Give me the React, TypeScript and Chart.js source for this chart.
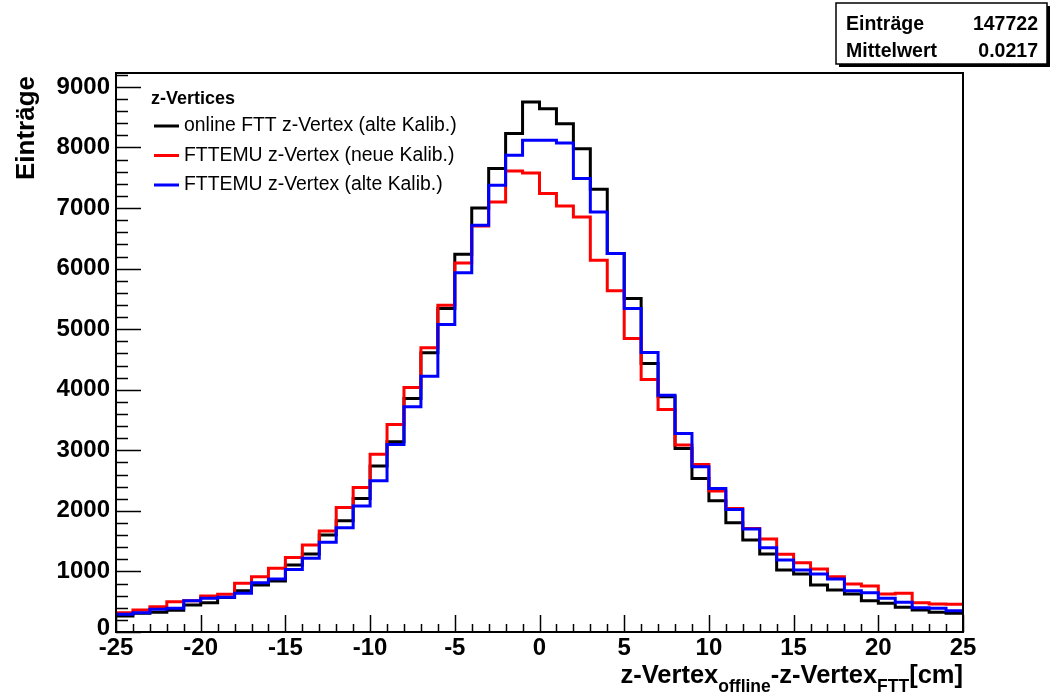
import React, { useEffect, useRef } from "react";
import { Chart, registerables } from "chart.js";

Chart.register(...registerables);

// Lower bin edges (bin width 1 cm)
const binEdges = [
  -25, -24, -23, -22, -21, -20, -19, -18, -17, -16,
  -15, -14, -13, -12, -11, -10, -9, -8, -7, -6,
  -5, -4, -3, -2, -1, 0, 1, 2, 3, 4,
  5, 6, 7, 8, 9, 10, 11, 12, 13, 14,
  15, 16, 17, 18, 19, 20, 21, 22, 23, 24,
];
const upperEdge = 25;

const onlineAlte = [
  264, 308, 325, 360, 446, 484, 570, 682, 776, 842,
  1106, 1287, 1601, 1837, 2206, 2739, 3141, 3856, 4609, 5341,
  6238, 7002, 7652, 8229, 8751, 8641, 8394, 7981, 7310, 6249,
  5506, 4433, 3883, 3031, 2536, 2167, 1804, 1518, 1287, 1023,
  957, 776, 693, 627, 517, 473, 407, 363, 325, 308,
];
const emuNeue = [
  319, 363, 418, 501, 517, 594, 622, 803, 913, 1051,
  1232, 1436, 1667, 2057, 2387, 2937, 3427, 4037, 4692, 5396,
  6094, 6705, 7101, 7612, 7580, 7239, 7035, 6854, 6139, 5633,
  4846, 4170, 3675, 3086, 2767, 2327, 2041, 1711, 1535, 1282,
  1144, 1040, 913, 792, 759, 627, 638, 484, 462, 457,
];
const emuAlte = [
  292, 319, 374, 391, 517, 556, 572, 638, 814, 875,
  1034, 1216, 1480, 1722, 2079, 2497, 3097, 3718, 4224, 5077,
  5930, 6716, 7376, 7871, 8119, 8119, 8075, 7486, 6936, 6249,
  5341, 4615, 3911, 3279, 2728, 2371, 2024, 1700, 1392, 1188,
  1023, 957, 875, 682, 649, 556, 490, 401, 391, 352,
];

const seriesNames = [
  "online FTT z-Vertex (alte Kalib.)",
  "FTTEMU z-Vertex (neue Kalib.)",
  "FTTEMU z-Vertex (alte Kalib.)",
];
const seriesColors = ["#000000", "#ff0000", "#0000ff"];
const legendTitle = "z-Vertices";
const yTitle = "Einträge";
const statsLabels = ["Einträge", "Mittelwert"];
const statsValues = ["147722", "0.0217"];
const xTicks = [-25, -20, -15, -10, -5, 0, 5, 10, 15, 20, 25];
const yTicks = [0, 1000, 2000, 3000, 4000, 5000, 6000, 7000, 8000, 9000];

const X_MIN = -25;
const X_MAX = 25;
const Y_MAX = 9230;

const FONT = '"Liberation Sans", Arial, Helvetica, sans-serif';

function toPoints(values: number[]) {
  const pts = binEdges.map((e, i) => ({ x: e, y: values[i] }));
  pts.push({ x: upperEdge, y: values[values.length - 1] });
  return pts;
}

const rootPlugin = {
  id: "rootStyle",
  afterDraw(chart: any) {
    const ctx: CanvasRenderingContext2D = chart.ctx;
    const area = chart.chartArea;
    const xs = chart.scales.x;
    const ys = chart.scales.y;
    ctx.save();
    ctx.strokeStyle = "#000";
    ctx.fillStyle = "#000";

    // frame
    ctx.lineWidth = 2;
    ctx.strokeRect(area.left, area.top, area.right - area.left, area.bottom - area.top);

    // y ticks (inside)
    ctx.lineWidth = 1.5;
    for (let v = 0; v <= Y_MAX; v += 200) {
      const y = Math.round(ys.getPixelForValue(v)) + 0.5;
      const len = v % 1000 === 0 ? 25 : 12;
      ctx.beginPath();
      ctx.moveTo(area.left, y);
      ctx.lineTo(area.left + len, y);
      ctx.stroke();
    }
    // x ticks (inside)
    for (let v = X_MIN; v <= X_MAX; v += 1) {
      const x = Math.round(xs.getPixelForValue(v)) + 0.5;
      const len = v % 5 === 0 ? 17 : 8;
      ctx.beginPath();
      ctx.moveTo(x, area.bottom);
      ctx.lineTo(x, area.bottom - len);
      ctx.stroke();
    }

    // tick labels
    ctx.font = `bold 24px ${FONT}`;
    ctx.textAlign = "right";
    ctx.textBaseline = "middle";
    yTicks.forEach((v) => {
      const y = ys.getPixelForValue(v);
      ctx.fillText(String(v), area.left - 6, v === 0 ? y - 4 : y);
    });
    ctx.textAlign = "center";
    ctx.textBaseline = "middle";
    xTicks.forEach((v) => {
      const x = xs.getPixelForValue(v);
      ctx.fillText(String(v), x, 648);
    });

    // y title
    ctx.save();
    ctx.translate(34, 76);
    ctx.rotate(-Math.PI / 2);
    ctx.font = `bold 26px ${FONT}`;
    ctx.textAlign = "right";
    ctx.textBaseline = "alphabetic";
    ctx.fillText(yTitle, 0, 0);
    ctx.restore();

    // x title with subscripts, right aligned at frame right
    const parts = [
      { t: "z-Vertex", sub: false },
      { t: "offline", sub: true },
      { t: "-z-Vertex", sub: false },
      { t: "FTT", sub: true },
      { t: "[cm]", sub: false },
    ];
    const mainFont = `bold 25.5px ${FONT}`;
    const subFont = `bold 17.5px ${FONT}`;
    let total = 0;
    const widths = parts.map((p) => {
      ctx.font = p.sub ? subFont : mainFont;
      const w = ctx.measureText(p.t).width;
      total += w;
      return w;
    });
    let cx = area.right - total;
    ctx.textAlign = "left";
    ctx.textBaseline = "alphabetic";
    parts.forEach((p, i) => {
      ctx.font = p.sub ? subFont : mainFont;
      ctx.fillText(p.t, cx, p.sub ? 692 : 683);
      cx += widths[i];
    });

    // legend
    ctx.font = `bold 18px ${FONT}`;
    ctx.textAlign = "left";
    ctx.textBaseline = "middle";
    ctx.fillText(legendTitle, 151, 99);
    ctx.font = `19.4px ${FONT}`;
    const legYs = [126, 155.5, 185];
    seriesNames.forEach((name, i) => {
      ctx.strokeStyle = seriesColors[i];
      ctx.lineWidth = 3;
      ctx.beginPath();
      ctx.moveTo(154, legYs[i]);
      ctx.lineTo(179, legYs[i]);
      ctx.stroke();
      ctx.fillStyle = "#000";
      ctx.fillText(name, 184, legYs[i]);
    });

    // stats box
    const bx = 836, by = 3, bw = 211, bh = 61;
    ctx.fillStyle = "#000";
    ctx.fillRect(bx + 3, by + 3, bw, bh);
    ctx.fillStyle = "#fff";
    ctx.fillRect(bx, by, bw, bh);
    ctx.strokeStyle = "#000";
    ctx.lineWidth = 1.5;
    ctx.strokeRect(bx, by, bw, bh);
    ctx.fillStyle = "#000";
    ctx.font = `bold 19.5px ${FONT}`;
    ctx.textBaseline = "middle";
    statsLabels.forEach((lab, i) => {
      const yy = by + 22 + i * 27;
      ctx.textAlign = "left";
      ctx.fillText(lab, bx + 10, yy);
      ctx.textAlign = "right";
      ctx.fillText(statsValues[i], bx + bw - 9, yy);
    });

    ctx.restore();
  },
};

export default function App() {
  const ref = useRef<HTMLCanvasElement | null>(null);

  useEffect(() => {
    if (!ref.current) return;
    const data = [emuAlte, emuNeue, onlineAlte];
    const colors = [seriesColors[2], seriesColors[1], seriesColors[0]];
    const chart = new Chart(ref.current, {
      type: "line",
      data: {
        datasets: data.map((vals, i) => ({
          data: toPoints(vals),
          borderColor: colors[i],
          borderWidth: 3,
          pointRadius: 0,
          fill: false,
          stepped: "before" as const,
          tension: 0,
        })),
      },
      options: {
        animation: false,
        responsive: false,
        events: [],
        layout: { padding: { top: 73, right: 88, left: 0, bottom: 0 } },
        plugins: {
          legend: { display: false },
          tooltip: { enabled: false },
          title: { display: false },
        },
        scales: {
          x: {
            type: "linear",
            min: X_MIN,
            max: X_MAX,
            grid: { display: false },
            border: { display: false },
            ticks: { display: false },
            afterFit: (s: any) => {
              s.height = 65;
            },
          },
          y: {
            type: "linear",
            min: 0,
            max: Y_MAX,
            grid: { display: false },
            border: { display: false },
            ticks: { display: false },
            afterFit: (s: any) => {
              s.width = 116;
            },
          },
        },
      },
      plugins: [rootPlugin],
    });
    return () => chart.destroy();
  }, []);

  return (
    <div style={{ position: "fixed", left: 0, top: 0, width: 1051, height: 697, background: "#fff" }}>
      <canvas ref={ref} width={1051} height={697} style={{ display: "block", width: 1051, height: 697 }} />
    </div>
  );
}
